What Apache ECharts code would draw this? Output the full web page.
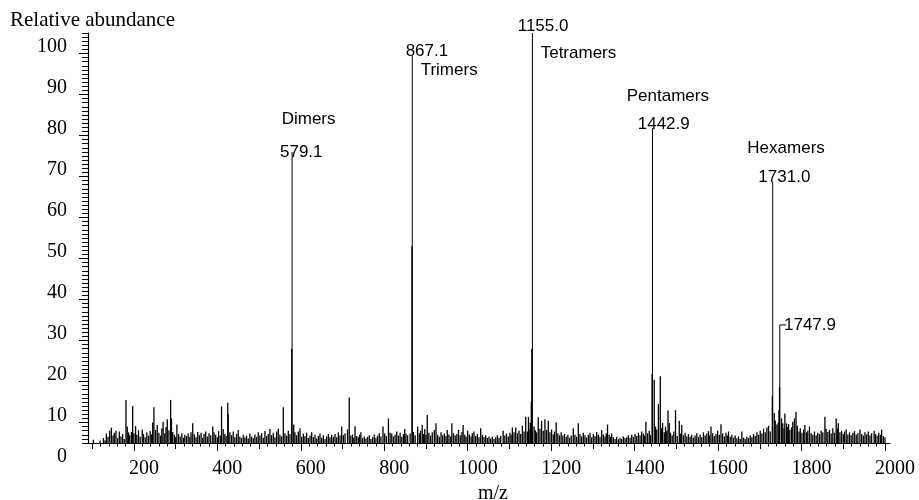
<!DOCTYPE html>
<html>
<head>
<meta charset="utf-8">
<script src="https://cdn.jsdelivr.net/npm/echarts@6/dist/echarts.min.js"></script>
<style>html,body{margin:0;padding:0;background:#fff}#c{width:919px;height:500px}</style>
</head>
<body>
<div id="c"></div>
<script>
// ---- Data ----
var peakMz    = [579.1, 867.1, 1155.0, 1442.9, 1731.0, 1747.9];
var peakInt   = [71, 94.5, 100, 76.8, 63.7, 28.8];
var peakLabel = ['579.1', '867.1', '1155.0', '1442.9', '1731.0', '1747.9'];
var peakName  = ['Dimers', 'Trimers', 'Tetramers', 'Pentamers', 'Hexamers', ''];

// satellite lines next to the cluster peaks [m/z, intensity]
var satellites = [
  [578.3,23],[866.4,48],[1153.6,23],[1152.4,10],[1145.6,6.4],
  [1441.8,16.8],[1447,15.4],[1457,9.5],[1461.5,16.3],[1474,4.0],[1480,7.9],[1483,4.9],[1498,8.0],
  [1730,11.5],[1734.7,7.3],[1746,8.0],[1747.3,13.6],[1760,7.2],[1764,4.8],[1786.8,7.6]
];

// background ion lines [m/z, intensity]
var noiseLow = [
  [103,0.8],[119,0.6],[127,1.2],[131,0.7],[134,2.3],[138,1.5],[142,3.0],[146,3.7],[150,1.8],[153,2.5],[157,3.0],[161,1.2],[165,2.8],[169,1.6],[173,2.2],[177,1.0],[181,10.5],[184,4.0],[187,2.6],[190,1.9],[194,2.7],[197,9.0],[200,2.4],[204,4.1],[207,2.0],[211,3.1],[215,1.5],[220,3.3],[223,2.2],[227,1.4],[231,2.6],[235,1.8],[239,2.9],[242,2.1],[245,5.0],[248,8.7],[252,3.2],[256,4.4],[260,2.5],[264,1.8],[267,3.6],[270,5.2],[274,2.4],[277,3.9],[280,5.8],[284,3.1],[288,10.5],[290,6.0],[293,2.7],[297,2.0],[300,1.5],[303,4.5],[307,2.2],[311,1.6],[315,2.4],[319,1.3],[322,2.0],[326,1.7],[330,2.3],[334,1.5],[337,2.6],[341,4.8],[345,2.1],[349,1.4],[353,2.7],[357,1.9],[361,2.5],[365,1.3],[368,2.2],[372,2.8],[376,1.6],[380,2.4],[384,1.9],[389,4.0],[392,2.6],[396,2.0],[400,1.4],[403,2.9],[407,1.8],[410,8.9],[414,3.4],[418,2.2],[421,1.7],[425,9.8],[426,7.0],[430,2.6],[434,1.9],[438,2.8],[442,1.4],[446,2.2],[450,3.2],[454,1.5],[458,1.2],[462,2.0],[466,1.4],[470,1.8],[474,1.1],[478,2.3],[482,1.6],[486,1.2],[490,2.1],[494,1.5],[498,2.6]
];
var noiseMid = [
  [502,1.8],[506,2.4],[510,1.3],[514,2.9],[518,1.7],[522,2.2],[526,3.4],[530,1.9],[534,2.5],[538,1.4],[542,2.8],[546,3.5],[550,2.0],[554,1.6],[558,8.7],[562,2.4],[566,1.8],[570,3.0],[574,2.2],[583,4.5],[586,2.6],[590,1.9],[594,2.8],[598,3.6],[602,1.5],[606,2.3],[610,1.7],[614,2.5],[618,1.2],[622,1.8],[626,2.6],[630,1.4],[634,2.0],[638,1.1],[642,1.7],[646,2.3],[650,1.3],[654,1.9],[658,1.0],[662,1.6],[666,2.2],[670,1.4],[674,2.0],[678,1.5],[682,2.2],[686,1.4],[690,2.6],[694,1.8],[698,4.0],[702,1.9],[706,2.4],[712,3.3],[716,11.1],[720,1.8],[724,2.1],[727,1.3],[730,4.1],[734,1.7],[738,1.4],[741,2.0],[744,2.6],[748,1.2],[752,1.6],[756,1.1],[760,1.5],[764,1.9],[768,1.0],[772,1.4],[776,2.1],[780,1.3],[784,1.8],[788,2.4],[792,1.6],[797,4.0],[801,2.3],[805,1.7],[810,6.0],[814,2.5],[818,2.3],[822,1.6],[826,2.0],[830,2.8],[834,1.8],[838,2.5],[842,1.5],[846,2.2],[849,3.4],[852,2.3],[856,1.9],[862,2.3],[870,2.7],[874,1.9],[880,4.0],[884,2.4],[887,3.0],[891,4.4],[894,2.2],[897,3.4],[900,2.0],[903,6.8],[907,2.5],[911,1.8],[915,2.6],[920,3.2],[924,4.8],[928,2.0],[932,1.5],[936,2.6],[940,1.9],[944,2.3],[948,1.7],[951,3.2],[955,2.1],[959,1.6],[962,4.8],[966,2.4],[970,1.8],[974,2.2],[978,3.2],[982,1.9],[986,2.7],[989,4.4],[993,2.0],[996,1.5]
];
var noiseHigh = [
  [1000,3.0],[1004,2.1],[1008,1.6],[1011,2.4],[1015,2.8],[1019,1.7],[1023,2.2],[1027,1.4],[1031,3.6],[1035,2.0],[1039,1.5],[1043,1.9],[1047,1.2],[1051,1.6],[1055,1.1],[1059,1.5],[1063,1.0],[1067,1.4],[1071,1.9],[1075,1.3],[1079,1.7],[1085,3.0],[1089,1.8],[1093,2.3],[1097,1.6],[1101,2.5],[1104,2.0],[1107,3.8],[1111,2.6],[1115,3.8],[1119,2.4],[1123,3.0],[1127,2.2],[1131,4.2],[1135,2.8],[1139,6.4],[1143,2.8],[1147,3.4],[1150,5.0],[1159,4.0],[1162,3.1],[1165,2.6],[1169,6.3],[1173,3.5],[1177,5.4],[1181,3.0],[1185,5.8],[1189,3.2],[1193,5.4],[1197,2.6],[1201,3.3],[1205,2.1],[1208,2.8],[1212,5.0],[1216,2.4],[1220,1.9],[1224,2.6],[1228,1.8],[1232,2.2],[1236,1.5],[1240,2.0],[1244,1.3],[1248,1.8],[1253,3.6],[1257,2.0],[1261,1.5],[1265,4.8],[1269,2.2],[1273,1.6],[1277,2.5],[1281,1.9],[1285,1.3],[1289,2.0],[1293,2.5],[1297,1.4],[1301,2.2],[1305,1.7],[1309,2.7],[1313,2.0],[1317,1.5],[1321,3.2],[1325,2.1],[1329,1.6],[1332,2.4],[1335,4.5],[1339,2.0],[1342,1.5],[1345,2.3],[1349,1.4],[1353,1.0],[1357,1.5],[1361,0.9],[1365,1.3],[1369,1.0],[1373,1.6],[1377,1.2],[1381,1.4],[1385,1.9],[1389,1.3],[1393,2.0],[1397,1.5],[1401,2.2],[1405,1.7],[1409,2.5],[1413,1.9],[1417,2.8],[1421,2.3],[1424,1.8],[1427,5.2],[1431,2.4],[1435,3.0],[1438,2.0],[1450,4.0],[1453,3.3],[1464,3.6],[1467,4.9],[1471,2.6],[1477,3.0],[1486,2.5],[1490,1.9],[1494,2.8],[1502,1.7],[1507,5.4],[1510,2.3],[1513,4.4],[1517,1.9],[1521,2.5],[1525,1.6],[1529,2.2],[1533,1.5],[1537,2.0],[1541,1.3],[1545,1.8],[1549,2.4],[1553,1.5],[1557,2.1],[1561,1.4],[1565,2.6],[1569,1.8],[1573,2.3],[1577,2.9],[1580,1.9],[1583,4.0],[1587,2.4],[1591,1.7],[1595,2.2],[1599,3.0],[1603,2.0],[1607,4.6],[1611,2.3],[1615,1.6],[1619,2.5],[1622,1.8],[1625,2.8],[1629,1.5],[1633,2.0],[1637,1.3],[1641,1.8],[1645,1.1],[1649,1.6],[1653,1.0],[1657,2.8],[1661,1.3],[1665,1.0],[1669,1.5],[1673,1.2],[1677,1.8],[1681,1.4],[1685,2.2],[1689,1.7],[1693,2.6],[1697,2.0],[1701,3.0],[1705,2.3],[1709,3.5],[1713,2.6],[1717,3.8],[1721,4.2],[1725,2.8],[1737,5.5],[1741,4.5],[1744,5.0],[1752,6.0],[1755,4.8],[1758,3.6],[1767,3.9],[1769,4.6],[1772,3.2],[1776,3.8],[1779,5.2],[1783,6.0],[1790,4.2],[1794,2.8],[1797,3.6],[1801,2.5],[1805,3.3],[1808,4.4],[1812,2.6],[1815,3.0],[1819,4.0],[1823,2.4],[1827,2.0],[1831,2.8],[1835,1.9],[1839,2.5],[1843,2.2],[1847,3.0],[1851,2.6],[1856,6.4],[1859,3.4],[1863,2.7],[1867,3.2],[1871,2.3],[1875,3.6],[1879,2.5],[1883,6.0],[1886,3.5],[1888,4.8],[1892,2.6],[1896,3.0],[1900,2.2],[1903,2.8],[1907,3.3],[1911,2.1],[1915,2.6],[1919,1.9],[1923,2.5],[1927,2.9],[1931,2.0],[1935,2.4],[1940,3.3],[1944,2.2],[1948,1.8],[1952,2.6],[1956,2.1],[1960,2.8],[1964,1.9],[1968,2.4],[1974,3.0],[1977,2.2],[1981,1.8],[1985,2.5],[1989,2.0],[1992,3.3],[1996,1.7],[2000,1.4]
];

// axis ticks / labels
var xLabelValues = [200, 400, 600, 800, 1000, 1200, 1400, 1600, 1800, 2000];
var xMidTicks    = [100, 300, 500, 700, 900, 1100, 1300, 1500, 1700, 1900];
var yLabelValues = [0, 10, 20, 30, 40, 50, 60, 70, 80, 90, 100];
var yMidTicks    = [5, 15, 25, 35, 45, 55, 65, 75, 85, 95];
var X_MIN = 90, X_MAX = 2012;

// ---- Presentation ----
var xSmallTicks = [];
for (var t = 100; t <= 2000; t += 20) xSmallTicks.push(t);

var annLayout = [
  {num: [-12.1, 0],    name: [-10.4, -32.6]},
  {num: [-6.6, -4.5],  name: [8.4, 14.8]},
  {num: [-14.7, -6.3], name: [8.3, 20.3]},
  {num: [-14.8, -4.1], name: [-25.8, -32.1]},
  {num: [-14.4, -4.5], name: [-25.4, -33.5]},
  {num: [4.2, 0.8],    name: null, connector: 6.5}
];

var SERIF = '"Liberation Serif","Times New Roman",serif';
var SANS  = '"Liberation Sans",Arial,Helvetica,sans-serif';

var spectrum = noiseLow.concat(noiseMid, noiseHigh, satellites);
var peaks = peakMz.map(function (m, i) { return [m, peakInt[i]]; });

function makeStick(width) {
  return function (params, api) {
    var p0 = api.coord([api.value(0), 0]);
    var p1 = api.coord([api.value(0), api.value(1)]);
    return {type: 'line', shape: {x1: p0[0], y1: p0[1], x2: p1[0], y2: p1[1]},
            style: {stroke: '#000', lineWidth: width}};
  };
}

function annRender(params, api) {
  var i = params.dataIndex;
  var top = api.coord([api.value(0), api.value(1)]);
  var L = annLayout[i];
  var children = [];
  children.push({type: 'text', x: top[0] + L.num[0], y: top[1] + L.num[1],
    style: {text: peakLabel[i], font: '17px ' + SANS, fill: '#000', align: 'left', verticalAlign: 'middle'}});
  if (L.name && peakName[i]) {
    children.push({type: 'text', x: top[0] + L.name[0], y: top[1] + L.name[1],
      style: {text: peakName[i], font: '17px ' + SANS, fill: '#000', align: 'left', verticalAlign: 'middle'}});
  }
  if (L.connector) {
    children.push({type: 'line', shape: {x1: top[0], y1: top[1], x2: top[0] + L.connector, y2: top[1]},
      style: {stroke: '#000', lineWidth: 1}});
  }
  return {type: 'group', children: children};
}

function plain(v) { return String(v); }

var chart = echarts.init(document.getElementById('c'), null, {renderer: 'canvas'});
chart.setOption({
  animation: false,
  backgroundColor: '#fff',
  title: {text: 'Relative abundance', left: 10, top: 10, padding: 0,
          textStyle: {fontFamily: SERIF, fontSize: 21, fontWeight: 'normal', color: '#000'}},
  grid: {left: 88, right: 29, top: 33, bottom: 57, containLabel: false, outerBoundsMode: 'none'},
  xAxis: [
    {type: 'value', min: X_MIN, max: X_MAX, position: 'bottom',
     name: 'm/z', nameLocation: 'middle', nameGap: 38,
     nameTextStyle: {fontFamily: SERIF, fontSize: 20, color: '#000', padding: [0, 0, 0, 8]},
     axisLine: {show: true, lineStyle: {color: '#000', width: 1.2}},
     axisTick: {show: true, customValues: xLabelValues, length: 8, lineStyle: {color: '#000'}},
     axisLabel: {show: true, customValues: xLabelValues, formatter: plain, margin: 16, padding: [0, 0, 0, 20],
                 fontFamily: SERIF, fontSize: 20, color: '#000'},
     splitLine: {show: false}},
    {type: 'value', min: X_MIN, max: X_MAX, position: 'bottom',
     axisLine: {show: false},
     axisTick: {show: true, customValues: xMidTicks, length: 6, lineStyle: {color: '#000'}},
     axisLabel: {show: false}, splitLine: {show: false}},
    {type: 'value', min: X_MIN, max: X_MAX, position: 'bottom',
     axisLine: {show: false},
     axisTick: {show: true, customValues: xSmallTicks, length: 3.5, lineStyle: {color: '#000'}},
     axisLabel: {show: false}, splitLine: {show: false}}
  ],
  yAxis: [
    {type: 'value', min: 0, max: 100, interval: 10, position: 'left',
     axisLine: {show: true, lineStyle: {color: '#000', width: 1.2}},
     axisTick: {show: true, length: 6, lineStyle: {color: '#000'}},
     minorTick: {show: true, splitNumber: 10, length: 6, lineStyle: {color: '#000'}},
     axisLabel: {show: true, customValues: yLabelValues, formatter: plain, margin: 21,
                 verticalAlign: 'top', lineHeight: 28,
                 fontFamily: SERIF, fontSize: 20, color: '#000'},
     splitLine: {show: false}},
    {type: 'value', min: 0, max: 100, position: 'left',
     axisLine: {show: false},
     axisTick: {show: true, customValues: yMidTicks, length: 9, lineStyle: {color: '#000'}},
     axisLabel: {show: false}, splitLine: {show: false}}
  ],
  series: [
    {type: 'custom', name: 'spectrum', renderItem: makeStick(1.3), data: spectrum, clip: true, silent: true},
    {type: 'custom', name: 'peaks', renderItem: makeStick(1), data: peaks, clip: false, silent: true},
    {type: 'custom', name: 'annotations', renderItem: annRender, data: peaks, clip: false, silent: true}
  ]
});
</script>
</body>
</html>
